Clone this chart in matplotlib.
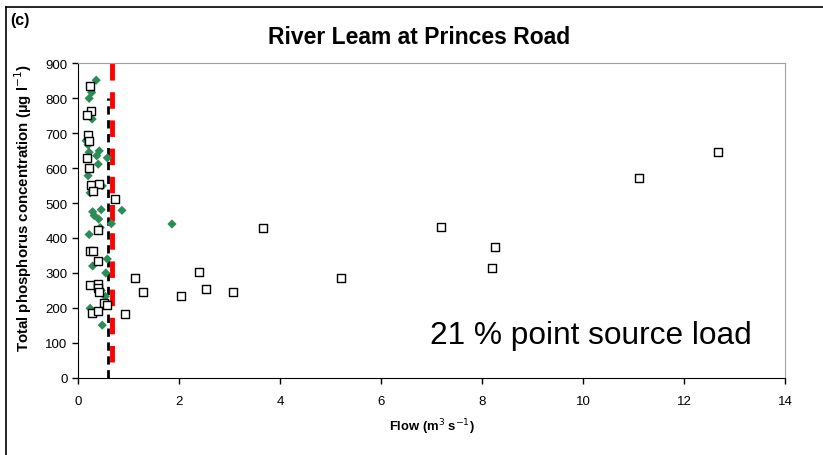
import matplotlib.pyplot as plt
from matplotlib.lines import Line2D

plt.rcParams['font.family'] = ['Liberation Sans', 'DejaVu Sans']

# open squares
flow_sq = [0.24, 0.26, 0.17, 0.19, 0.22, 0.185, 0.22, 0.26, 0.42, 0.30, 0.73, 0.39,
           0.24, 0.30, 0.40, 1.12, 0.24, 0.40, 0.40, 0.42, 1.28, 0.52, 0.58, 0.28,
           0.39, 0.93, 2.04, 2.40, 2.53, 3.07, 3.66, 5.20, 7.18, 8.20, 8.25, 11.10, 12.68]
tp_sq = [833, 764, 752, 694, 678, 628, 599, 552, 555, 533, 511, 424,
         364, 364, 333, 286, 266, 269, 257, 245, 245, 213, 209, 186,
         190, 183, 235, 303, 255, 245, 429, 286, 432, 315, 374, 571, 646]

# green diamonds
flow_di = [0.36, 0.27, 0.22, 0.28, 0.16, 0.20, 0.42, 0.37, 0.58, 0.22, 0.40, 0.20,
           0.48, 0.24, 0.29, 0.46, 0.32, 0.41, 0.87, 0.66, 0.44, 0.22, 0.58, 0.29,
           0.55, 0.46, 0.54, 0.24, 0.48, 1.86]
tp_di = [851, 816, 799, 740, 678, 666, 649, 635, 629, 645, 611, 578,
         549, 529, 475, 481, 464, 454, 479, 441, 430, 410, 340, 320,
         300, 250, 233, 199, 151, 440]

# threshold lines
flow_black = 0.59
black_range = [0, 800]
flow_red = 0.68
red_range = [45, 900]

fig = plt.figure(figsize=(8.23, 4.56), dpi=100)
ax = fig.add_axes([0.0948, 0.1689, 0.859, 0.6907])

ax.plot([flow_black, flow_black], black_range, color='black', lw=2, dashes=(3, 2), zorder=2)
ax.plot([flow_red, flow_red], red_range, color='red', lw=3.5, dashes=(3.4, 2.4), zorder=2)

ax.scatter(flow_di, tp_di, marker='D', s=22, color='#2e8b57', edgecolors='none', zorder=3)
ax.scatter(flow_sq, tp_sq, marker='s', s=30, facecolors='white', edgecolors='black',
           linewidths=1, zorder=4)

ax.set_xlim(0, 14)
ax.set_ylim(0, 900)
ax.set_xticks(range(0, 15, 2))
ax.set_yticks(range(0, 901, 100))
ax.tick_params(labelsize=9.5, direction='out', length=4, width=1)
ax.tick_params(axis='x', pad=8)
ax.spines['top'].set_color('#a0a0a0')
ax.spines['right'].set_color('#a0a0a0')

ax.set_xlabel('Flow (m$^{3}$ s$^{-1}$)', fontsize=9.4, fontweight='bold', labelpad=7)
ax.set_ylabel('Total phosphorus concentration (\u00b5g l$^{-1}$)', fontsize=10.8,
              fontweight='bold')
ax.yaxis.set_label_coords(-0.062, 0.543)
fig.text(0.509, 0.917, 'River Leam at Princes Road',
         ha='center', va='center', fontsize=16.5, fontweight='bold')
ax.text(6.98, 123, '21 % point source load', fontsize=22.8, ha='left', va='center')

fig.text(0.012, 0.955, '(c)', fontsize=11.5, fontweight='bold', ha='left', va='center')
fig.add_artist(Line2D([0.007, 1.0], [0.982, 0.982], color='black', lw=1.2,
                      transform=fig.transFigure))
fig.add_artist(Line2D([0.007, 0.007], [0.0, 0.982], color='black', lw=1.2,
                      transform=fig.transFigure))

fig.savefig('out.png', dpi=100)
